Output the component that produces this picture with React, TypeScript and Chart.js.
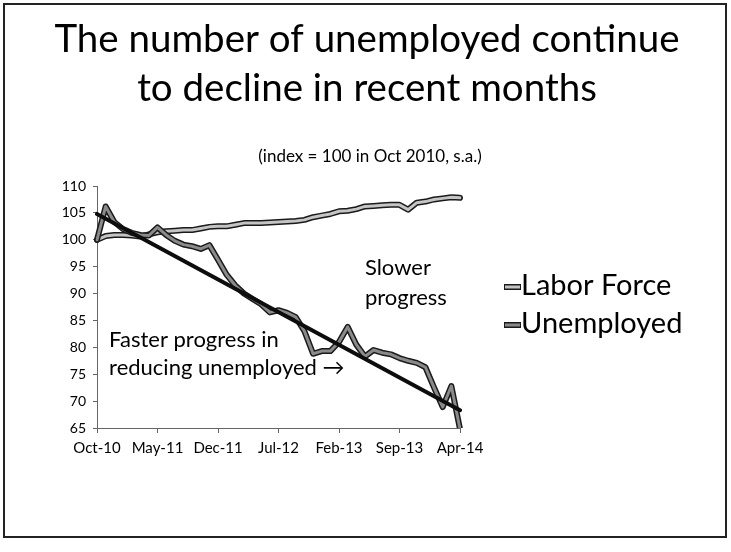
import React, { useEffect, useRef } from "react";
import { Chart, registerables } from "chart.js";

Chart.register(...registerables);

// ---------- data ----------
const months = [
  "Oct-10", "Nov-10", "Dec-10",
  "Jan-11", "Feb-11", "Mar-11", "Apr-11", "May-11", "Jun-11", "Jul-11", "Aug-11", "Sep-11", "Oct-11", "Nov-11", "Dec-11",
  "Jan-12", "Feb-12", "Mar-12", "Apr-12", "May-12", "Jun-12", "Jul-12", "Aug-12", "Sep-12", "Oct-12", "Nov-12", "Dec-12",
  "Jan-13", "Feb-13", "Mar-13", "Apr-13", "May-13", "Jun-13", "Jul-13", "Aug-13", "Sep-13", "Oct-13", "Nov-13", "Dec-13",
  "Jan-14", "Feb-14", "Mar-14", "Apr-14",
];

const laborForce = [
  100.0, 100.7, 100.9,
  100.9, 100.8, 100.6, 101.0, 101.4, 101.6, 101.7, 101.8, 101.8, 102.1, 102.4, 102.5,
  102.5, 102.8, 103.1, 103.1, 103.1, 103.2, 103.3, 103.4, 103.5, 103.7, 104.2, 104.5,
  104.8, 105.3, 105.4, 105.7, 106.2, 106.3, 106.4, 106.5, 106.5, 105.6, 106.9, 107.1,
  107.5, 107.7, 107.9, 107.8,
];

const unemployed = [
  100.0, 106.2, 103.3,
  102.0, 101.3, 100.9, 100.8, 102.3, 100.9, 99.8, 99.1, 98.8, 98.3, 99.0, 96.3,
  93.5, 91.5, 90.0, 89.0, 88.0, 86.5, 86.9, 86.4, 85.6, 83.0, 78.8, 79.3,
  79.3, 81.0, 83.8, 80.5, 78.3, 79.5, 79.0, 78.7, 78.0, 77.5, 77.1, 76.3,
  72.5, 68.9, 72.8, 64.8,
];

const trendStart = 104.8;
const trendEnd = 68.3;

const yMin = 65;
const yMax = 110;
const yStep = 5;
const labelEvery = 7;

const titleLines = ["The number of unemployed continue", "to decline in recent months"];
const subtitleText = "(index = 100 in Oct 2010, s.a.)";
const slowerNote = ["Slower", "progress"];
const fasterNote = ["Faster progress in", "reducing unemployed \u2192"];

// note anchors in data units (category index, value)
const slowerAt = { i: 31.0, v1: 94.75, v2: 89.2 };
const fasterAt = { i: 1.4, v1: 81.4, v2: 76.2 };

// ---------- styling ----------
const FONT = "Lato, Carlito, 'Open Sans', sans-serif";
const LF_INNER = "#c4c4c4";
const UN_INNER = "#8a8a8a";
const OUTLINE = "#1a1a1a";

const trend = months.map((_, i) =>
  i === 0 ? trendStart : i === months.length - 1 ? trendEnd : null
);

const decorPlugin = {
  id: "decor",
  beforeDraw(chart: any) {
    const { ctx, width, height } = chart;
    ctx.save();
    ctx.fillStyle = "#ffffff";
    ctx.fillRect(0, 0, width, height);
    ctx.restore();
  },
  afterDraw(chart: any) {
    const { ctx } = chart;
    const xs = chart.scales.x;
    const ys = chart.scales.y;
    ctx.save();
    // frame
    ctx.strokeStyle = "#222";
    ctx.lineWidth = 2;
    ctx.strokeRect(4, 4, 722, 533);

    // title
    ctx.fillStyle = "#000";
    ctx.textAlign = "center";
    ctx.textBaseline = "middle";
    ctx.font = `38.5px ${FONT}`;
    ctx.fillText(titleLines[0], 367, 40);
    ctx.fillText(titleLines[1], 367, 89);
    ctx.font = `17px ${FONT}`;
    ctx.fillText(subtitleText, 370, 157);

    // notes
    ctx.textAlign = "left";
    ctx.font = `22px ${FONT}`;
    ctx.fillText(slowerNote[0], xs.getPixelForValue(slowerAt.i), ys.getPixelForValue(slowerAt.v1));
    ctx.fillText(slowerNote[1], xs.getPixelForValue(slowerAt.i), ys.getPixelForValue(slowerAt.v2));
    ctx.fillText(fasterNote[0], xs.getPixelForValue(fasterAt.i), ys.getPixelForValue(fasterAt.v1));
    ctx.fillText(fasterNote[1], xs.getPixelForValue(fasterAt.i), ys.getPixelForValue(fasterAt.v2));

    // legend
    const items = [
      { label: "Labor Force", inner: LF_INNER },
      { label: "Unemployed", inner: UN_INNER },
    ];
    const lx = 504;
    const ly0 = 286;
    const gap = 38;
    items.forEach((it, k) => {
      const y = ly0 + k * gap;
      ctx.lineCap = "butt";
      ctx.strokeStyle = OUTLINE;
      ctx.lineWidth = 6;
      ctx.beginPath();
      ctx.moveTo(lx, y + 1);
      ctx.lineTo(lx + 17, y + 1);
      ctx.stroke();
      ctx.strokeStyle = it.inner;
      ctx.lineWidth = 3;
      ctx.beginPath();
      ctx.moveTo(lx + 1, y + 1);
      ctx.lineTo(lx + 16, y + 1);
      ctx.stroke();
      ctx.fillStyle = "#000";
      ctx.font = `29px ${FONT}`;
      ctx.textAlign = "left";
      ctx.textBaseline = "middle";
      ctx.fillText(it.label, lx + 17, y);
    });
    ctx.restore();
  },
};

export default function App() {
  const ref = useRef<HTMLCanvasElement | null>(null);

  useEffect(() => {
    if (!ref.current) return;
    const lineBase = {
      pointRadius: 0,
      pointHoverRadius: 0,
      tension: 0,
      fill: false,
      borderJoinStyle: "round" as const,
      borderCapStyle: "round" as const,
    };
    const chart = new Chart(ref.current, {
      type: "line",
      data: {
        labels: months,
        datasets: [
          { ...lineBase, label: "trend", data: trend, borderColor: "#0d0d0d", borderWidth: 4, spanGaps: true, order: 0 },
          { ...lineBase, label: "Unemployed", data: unemployed, borderColor: UN_INNER, borderWidth: 3, order: 1 },
          { ...lineBase, label: "Unemployed outline", data: unemployed, borderColor: OUTLINE, borderWidth: 6, order: 2 },
          { ...lineBase, label: "Labor Force", data: laborForce, borderColor: LF_INNER, borderWidth: 3, order: 3 },
          { ...lineBase, label: "Labor Force outline", data: laborForce, borderColor: OUTLINE, borderWidth: 6, order: 4 },
        ],
      },
      options: {
        animation: false,
        responsive: false,
        maintainAspectRatio: false,
        events: [],
        layout: { padding: { top: 186, left: 52, right: 271, bottom: 84 } },
        plugins: {
          legend: { display: false },
          title: { display: false },
          tooltip: { enabled: false },
        },
        scales: {
          x: {
            type: "category",
            offset: false,
            ticks: {
              autoSkip: false,
              maxRotation: 0,
              minRotation: 0,
              color: "#000",
              padding: 6,
              font: { family: FONT, size: 15 },
              callback: (_v: any, i: number) => (i % labelEvery === 0 ? months[i] : ""),
            },
            grid: {
              drawOnChartArea: false,
              drawTicks: true,
              tickLength: 5,
              color: (c: any) => (c.index % labelEvery === 0 ? "#666" : "rgba(0,0,0,0)"),
            },
            border: { display: true, color: "#666", width: 1 },
            afterFit: (s: any) => { s.height = 40; },
          },
          y: {
            min: yMin,
            max: yMax,
            ticks: {
              stepSize: yStep,
              color: "#000",
              padding: 7,
              font: { family: FONT, size: 14 },
            },
            grid: { drawOnChartArea: false, drawTicks: true, tickLength: 4, color: "#666" },
            border: { display: true, color: "#666", width: 1 },
            afterFit: (s: any) => { s.width = 45; },
          },
        },
      },
      plugins: [decorPlugin],
    });
    return () => chart.destroy();
  }, []);

  return (
    <div style={{ position: "absolute", left: 0, top: 0, width: 731, height: 552, background: "#fff" }}>
      <canvas ref={ref} width={731} height={552} style={{ display: "block", width: 731, height: 552 }} />
    </div>
  );
}
